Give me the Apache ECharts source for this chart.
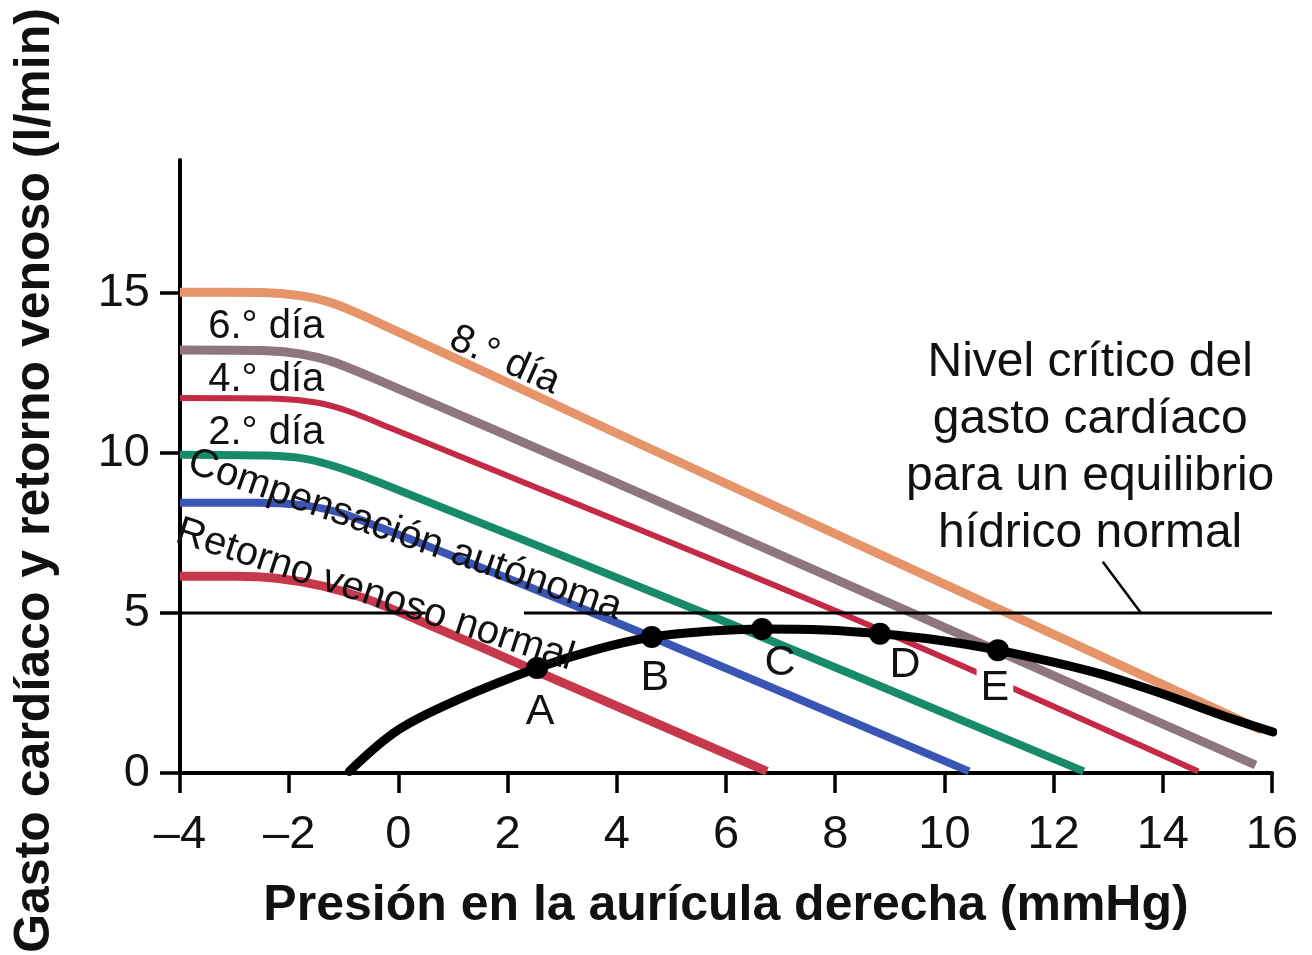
<!DOCTYPE html>
<html>
<head>
<meta charset="utf-8">
<script src="https://cdn.jsdelivr.net/npm/echarts@6/dist/echarts.min.js"></script>
<style>
  html, body { margin: 0; padding: 0; background: #fff; }
  #main { width: 1312px; height: 955px; }
</style>
</head>
<body>
<div id="main"></div>
<script>
// curvas de retorno venoso [presión, l/min]
const retornoNormal = [[-4, 6.15], [-3, 6.15], [-2.2, 6.08], [-1.4, 5.85], [-0.6, 5.45], [0.4, 4.75], [2.5, 3.2], [6.75, 0.05]];
const compensacion = [[-4, 8.45], [-2.6, 8.45], [-1.8, 8.38], [-1.1, 8.15], [-0.3, 7.65], [0.6, 7.05], [4.64, 4.25], [10.45, 0.05]];
const dia2 = [[-4, 9.95], [-2.4, 9.92], [-1.7, 9.82], [-1.1, 9.55], [-0.3, 9.05], [5.6, 5.0], [12.55, 0.05]];
const dia4 = [[-4, 11.72], [-2.2, 11.7], [-1.5, 11.58], [-0.9, 11.3], [-0.1, 10.75], [8.1, 5.0], [14.65, 0.05]];
const dia6 = [[-4, 13.22], [-2.4, 13.2], [-1.8, 13.1], [-1.2, 12.85], [-0.4, 12.3], [3.87, 9.16], [15.7, 0.25]];
const dia8 = [[-4, 15.03], [-2.5, 15.02], [-1.8, 14.92], [-1.2, 14.68], [-0.4, 14.1], [3.87, 10.72], [15.8, 1.35]];

// gasto cardíaco
const gasto = [[-0.9, 0.05], [0, 1.35], [1.1, 2.3], [2.54, 3.28], [3.6, 3.85], [4.64, 4.25], [5.6, 4.42],
  [6.66, 4.5], [7.8, 4.47], [8.82, 4.35], [9.9, 4.15], [10.98, 3.84], [12.72, 3.16], [13.95, 2.5],
  [15.17, 1.75], [16.02, 1.28]];
const puntos = [[2.54, 3.28, 'A'], [4.64, 4.25, 'B'], [6.66, 4.5, 'C'], [8.82, 4.35, 'D'], [10.98, 3.84, 'E'], [16.02, 1.28, 'F']];

// nivel crítico (l/min) y el hueco donde pasa el texto
const nivelCritico = 5;
const huecoNivel = [0.5, 2.3];
const guiaNivel = [[12.9, 6.6], [13.6, 5]];

const yTicks = [0, 5, 10, 15];

const FONT = '"Liberation Sans", Arial, Helvetica, sans-serif';
const chart = echarts.init(document.getElementById('main'));

function curva(data, color, width) {
  return {
    type: 'line', data: data, showSymbol: false, smooth: 0.3,
    lineStyle: { color: color, width: width, cap: 'butt' }, silent: true, z: 2
  };
}

// desplazamiento de cada letra respecto a su punto
const offsetLetra = { A: [3, 44], B: [3, 41], C: [18, 34], D: [25, 31], E: [-3, 38], F: [-2, -41] };

const option = {
  backgroundColor: '#fff',
  animation: false,
  grid: { left: 180, right: 40, top: 160, bottom: 182, outerBoundsMode: 'none' },
  xAxis: {
    type: 'value', min: -4, max: 16, interval: 2,
    axisLine: { onZero: false, lineStyle: { color: '#000', width: 4 } },
    axisTick: { length: 20, lineStyle: { color: '#000', width: 3.5 } },
    axisLabel: {
      margin: 39, color: '#111', fontSize: 47, fontFamily: FONT,
      formatter: v => String(v).replace('-', '–')
    },
    splitLine: { show: false },
    name: 'Presión en la aurícula derecha (mmHg)', nameLocation: 'middle', nameGap: 108,
    nameTextStyle: { color: '#111', fontSize: 50, fontWeight: 'bold', fontFamily: FONT }
  },
  yAxis: {
    type: 'value', min: 0, max: 19.16,
    axisLine: { show: true, onZero: false, lineStyle: { color: '#000', width: 4 } },
    axisTick: { show: true, length: 20, customValues: yTicks, lineStyle: { color: '#000', width: 3.5 } },
    axisLabel: { margin: 30, color: '#111', fontSize: 47, fontFamily: FONT, customValues: yTicks },
    splitLine: { show: false },
    name: 'Gasto cardíaco y retorno venoso (l/min)', nameLocation: 'middle', nameGap: 120,
    nameTextStyle: { color: '#111', fontSize: 50, fontWeight: 'bold', fontFamily: FONT, padding: [0, 28, 0, 0] }
  },
  series: [
    curva(retornoNormal, '#c7384d', 9),
    curva(compensacion, '#3a55b4', 8),
    curva(dia2, '#168a69', 8),
    curva(dia4, '#c42a45', 6),
    curva(dia6, '#8d767c', 9),
    curva(dia8, '#e6956b', 9),
    {
      type: 'line', showSymbol: false, silent: true, z: 3,
      data: [[-4, nivelCritico], [huecoNivel[0], nivelCritico]],
      lineStyle: { color: '#000', width: 3 }
    },
    {
      type: 'line', showSymbol: false, silent: true, z: 3,
      data: [[huecoNivel[1], nivelCritico], [16, nivelCritico]],
      lineStyle: { color: '#000', width: 3 }
    },
    {
      type: 'line', showSymbol: false, silent: true, z: 3,
      data: guiaNivel, lineStyle: { color: '#000', width: 2.5 }
    },
    {
      type: 'line', showSymbol: false, silent: true, z: 4, smooth: 0.35,
      data: gasto, lineStyle: { color: '#000', width: 9, cap: 'round' }
    },
    {
      type: 'scatter', z: 5, symbolSize: 22, silent: true,
      itemStyle: { color: '#000', opacity: 1 },
      data: puntos.map(p => ({
        value: [p[0], p[1]], name: p[2],
        label: p[2] === 'E'
          ? { offset: offsetLetra[p[2]], backgroundColor: '#fff', padding: [0, 4] }
          : { offset: offsetLetra[p[2]] }
      })),
      label: {
        show: true, position: 'inside', formatter: '{b}', color: '#111',
        fontSize: 43, fontFamily: FONT
      }
    }
  ]
};
chart.setOption(option);

// etiquetas de las curvas, ancladas en coordenadas de datos
const etiquetas = [
  { text: '6.° día', at: [-2.42, 13.94], rot: 0 },
  { text: '4.° día', at: [-2.42, 12.28], rot: 0 },
  { text: '2.° día', at: [-2.42, 10.63], rot: 0 },
  { text: '8.° día', at: [1.95, 12.9], rot: -24 },
  { text: 'Compensación autónoma', at: [0.12, 7.44], rot: -19 },
  { text: 'Retorno venoso normal', at: [-0.43, 5.56], rot: -18 }
];
const graphics = etiquetas.map(e => {
  const p = chart.convertToPixel({ gridIndex: 0 }, e.at);
  return {
    type: 'text', x: p[0], y: p[1], rotation: e.rot * Math.PI / 180, z: 10,
    style: { text: e.text, fill: '#111', fontSize: 40, fontFamily: FONT, align: 'center', verticalAlign: 'middle' }
  };
});
const pn = chart.convertToPixel({ gridIndex: 0 }, [12.67, 10.16]);
graphics.push({
  type: 'text', x: pn[0], y: pn[1], z: 10,
  style: {
    text: 'Nivel crítico del\ngasto cardíaco\npara un equilibrio\nhídrico normal',
    fill: '#111', fontSize: 48, lineHeight: 57, fontFamily: FONT, align: 'center', verticalAlign: 'middle'
  }
});
chart.setOption({ graphic: graphics });
</script>
</body>
</html>
